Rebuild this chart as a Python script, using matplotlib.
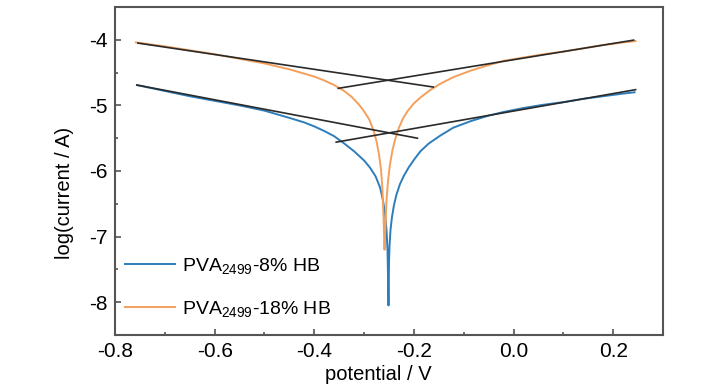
import matplotlib
matplotlib.use("Agg")
import matplotlib.pyplot as plt
from matplotlib.ticker import MultipleLocator

plt.rcParams['font.family'] = ['Liberation Sans', 'DejaVu Sans']
plt.rcParams['mathtext.default'] = 'regular'

# PVA2499-8% HB (blue)
pot_8 = [-0.756, -0.70, -0.65, -0.60, -0.55, -0.50, -0.45, -0.42, -0.40, -0.38, -0.36,
         -0.34, -0.32, -0.30, -0.288, -0.277, -0.268, -0.262, -0.258, -0.255, -0.253,
         -0.252, -0.251,
         -0.250, -0.249, -0.247, -0.244, -0.240, -0.235, -0.228, -0.220, -0.210, -0.200,
         -0.187, -0.170, -0.147, -0.121, -0.086, -0.052, -0.02, 0.02, 0.06, 0.10, 0.14,
         0.18, 0.22, 0.243]
logi_8 = [-4.69, -4.78, -4.86, -4.93, -5.00, -5.08, -5.19, -5.26, -5.32, -5.39, -5.47,
          -5.58, -5.70, -5.84, -5.95, -6.08, -6.25, -6.45, -6.65, -6.90, -7.20,
          -7.60, -8.05,
          -7.40, -7.15, -6.90, -6.70, -6.52, -6.36, -6.20, -6.07, -5.94, -5.83,
          -5.70, -5.58, -5.46, -5.34, -5.24, -5.16, -5.10, -5.04, -4.99, -4.95, -4.90,
          -4.86, -4.82, -4.80]

# PVA2499-18% HB (orange)
pot_18 = [-0.758, -0.70, -0.65, -0.60, -0.55, -0.50, -0.45, -0.40, -0.38, -0.36, -0.34,
          -0.325, -0.31, -0.30, -0.29, -0.281, -0.275, -0.270, -0.266, -0.263, -0.261,
          -0.259,
          -0.257, -0.255, -0.252, -0.248, -0.243, -0.237, -0.230, -0.222, -0.212, -0.200,
          -0.187, -0.170, -0.147, -0.121, -0.086, -0.052, -0.02, 0.02, 0.06, 0.10, 0.14,
          0.18, 0.22, 0.245]
logi_18 = [-4.04, -4.10, -4.16, -4.22, -4.29, -4.36, -4.45, -4.56, -4.62, -4.69, -4.78,
           -4.87, -4.99, -5.09, -5.21, -5.38, -5.55, -5.75, -5.98, -6.30, -6.70,
           -7.20,
           -6.80, -6.45, -6.15, -5.90, -5.68, -5.50, -5.34, -5.20, -5.08, -4.97,
           -4.88, -4.78, -4.67, -4.57, -4.47, -4.39, -4.32, -4.27, -4.22, -4.18, -4.13,
           -4.08, -4.04, -4.02]

# Tafel fit lines (start/end points)
tafel_x = [[-0.754, -0.161], [-0.352, 0.241], [-0.756, -0.193], [-0.356, 0.245]]
tafel_y = [[-4.05, -4.72], [-4.74, -4.005], [-4.69, -5.50], [-5.56, -4.76]]

labels = ['PVA$_{2499}$-8% HB', 'PVA$_{2499}$-18% HB']
colors = ['#2d7dbb', '#f4a05c']

fig = plt.figure(figsize=(7.28, 3.90), dpi=100)
ax = fig.add_axes([115/728, 1-335/390, 548/728, 328/390])

ax.plot(pot_8, logi_8, color=colors[0], lw=1.4, label=labels[0])
ax.plot(pot_18, logi_18, color=colors[1], lw=1.4, label=labels[1])
for tx, ty in zip(tafel_x, tafel_y):
    ax.plot(tx, ty, color='#2a2a2a', lw=1.2)

ax.set_xlim(-0.8, 0.3)
ax.set_ylim(-8.5, -3.5)
ax.xaxis.set_minor_locator(MultipleLocator(0.1))
ax.yaxis.set_minor_locator(MultipleLocator(0.5))
ax.set_xticks([-0.8, -0.6, -0.4, -0.2, 0.0, 0.2])
ax.set_xticklabels(['-0.8', '-0.6', '-0.4', '-0.2', '0.0', '0.2'])
ax.set_yticks([-8, -7, -6, -5, -4])
ax.set_yticklabels(['-8', '-7', '-6', '-5', '-4'])
ax.tick_params(which='both', direction='in', top=False, right=False,
               color='#555555', width=1.2, labelsize=15)
ax.tick_params(which='major', length=4, pad=5)
ax.tick_params(which='minor', length=2.5)
for s in ax.spines.values():
    s.set_color('#555555')
    s.set_linewidth(1.5)

ax.set_xlabel('potential / V', fontsize=14.5)
ax.set_ylabel('log(current / A)', fontsize=14.5)
ax.xaxis.set_label_coords(0.48, -0.09)
ax.yaxis.set_label_coords(-0.075, 0.433)

ax.legend(loc='lower left', bbox_to_anchor=(0.018, 0.05), frameon=False, fontsize=14,
          handlelength=2.6, handletextpad=0.36, labelspacing=1.15, borderaxespad=0,
          borderpad=0)

fig.savefig('out.png', dpi=100)
